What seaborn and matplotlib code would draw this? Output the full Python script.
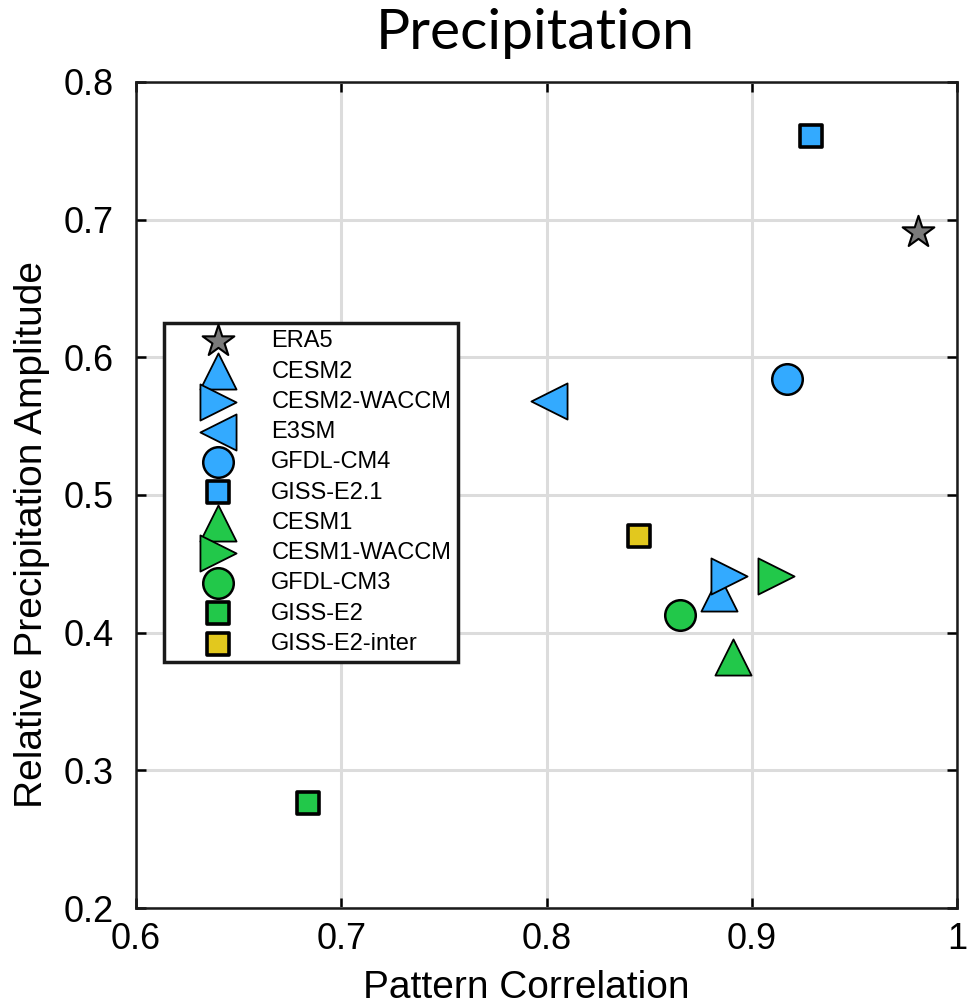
import matplotlib
matplotlib.use('Agg')
import matplotlib.pyplot as plt
import seaborn as sns

# values
models = ['ERA5', 'CESM2', 'CESM2-WACCM', 'E3SM', 'GFDL-CM4', 'GISS-E2.1',
          'CESM1', 'CESM1-WACCM', 'GFDL-CM3', 'GISS-E2', 'GISS-E2-inter']
pattern_corr = [0.981, 0.884, 0.889, 0.801, 0.917, 0.929,
                0.891, 0.912, 0.865, 0.684, 0.845]
rel_amp = [0.691, 0.429, 0.441, 0.568, 0.584, 0.761,
           0.382, 0.441, 0.413, 0.276, 0.470]

blue = '#33aaff'
green = '#22c84a'
colors = ['#7a7a7a', blue, blue, blue, blue, blue,
          green, green, green, green, '#e2c81e']
markers = ['*', '^', '>', '<', 'o', 's', '^', '>', 'o', 's', 's']
msizes = [24, 26, 26, 26, 22, 16, 26, 26, 22, 16, 16]
edgew = [1.5, 1.3, 1.3, 1.3, 1.8, 2.6, 1.3, 1.3, 1.8, 2.6, 2.6]

sns.set_style('ticks')
plt.rcParams['font.family'] = ['Liberation Sans', 'DejaVu Sans']
plt.rcParams['text.color'] = 'black'
plt.rcParams['axes.labelcolor'] = 'black'
plt.rcParams['xtick.color'] = 'black'
plt.rcParams['ytick.color'] = 'black'

fig = plt.figure(figsize=(9.67, 10.07), dpi=100)
ax = fig.add_axes([0.1406, 0.0983, 0.8491, 0.8203])

for i, name in enumerate(models):
    sns.scatterplot(x=[pattern_corr[i]], y=[rel_amp[i]], ax=ax,
                    marker=markers[i], s=msizes[i] ** 2, color=colors[i],
                    edgecolor='black', linewidth=edgew[i], label=name,
                    zorder=3)

ax.set_xlim(0.6, 1.0)
ax.set_ylim(0.2, 0.8)
ax.set_xticks([0.6, 0.7, 0.8, 0.9, 1.0])
ax.set_xticklabels(['0.6', '0.7', '0.8', '0.9', '1'])
ax.set_yticks([0.2, 0.3, 0.4, 0.5, 0.6, 0.7, 0.8])
ax.grid(True, color='#dcdcdc', linewidth=2.2, zorder=0)
ax.set_axisbelow(True)
for sp in ax.spines.values():
    sp.set_visible(True)
    sp.set_linewidth(1.8)
    sp.set_color('#1a1a1a')
ax.tick_params(direction='in', length=7, width=1.8, labelsize=26,
               top=True, right=True)
ax.tick_params(axis='x', pad=10)
ax.tick_params(axis='y', pad=16)

ax.set_xlabel('Pattern Correlation', fontsize=28)
ax.set_ylabel('Relative Precipitation Amplitude', fontsize=28)
ax.xaxis.set_label_coords(0.475, -0.075)
ax.yaxis.set_label_coords(-0.105, 0.452)
fig.text(0.553, 0.951, 'Precipitation', fontsize=41, family='Lato',
         ha='center', va='baseline')

leg = ax.legend(loc='upper left', bbox_to_anchor=(0.034, 0.708),
                borderaxespad=0, fontsize=17, labelspacing=0.35,
                handletextpad=0.25, handlelength=4.0, borderpad=0.3,
                fancybox=False, framealpha=1, edgecolor='#1a1a1a')
leg.get_frame().set_linewidth(2.5)
leg.set_zorder(5)

fig.savefig('out.png', dpi=100)
